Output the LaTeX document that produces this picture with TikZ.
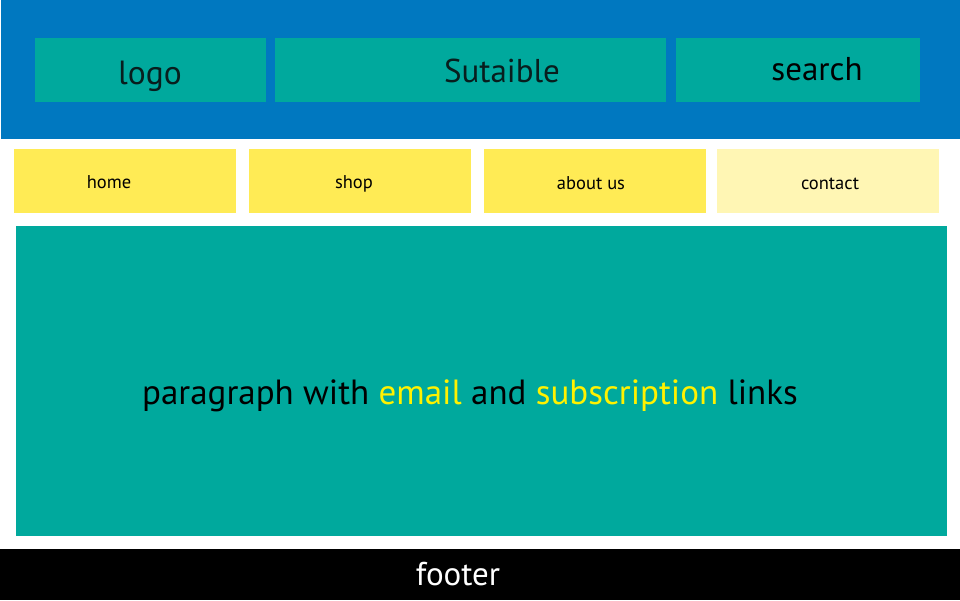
\documentclass[tikz,border=0pt]{standalone}
\usepackage{fontspec}
\setmainfont{PT Sans}

\definecolor{headblue}{RGB}{0,120,192}
\definecolor{tealbox}{RGB}{0,169,157}
\definecolor{navyellow}{RGB}{255,235,85}
\definecolor{navpale}{RGB}{255,246,180}
\definecolor{linkyellow}{RGB}{255,242,0}
\definecolor{darkink}{RGB}{8,30,30}

\tikzset{
  block/.style={fill=#1, draw=none},
  caption/.style={anchor=base, inner sep=0pt, font=\fontsize{#1}{#1}\selectfont}
}

\begin{document}
\begin{tikzpicture}[x=1pt, y=-1pt]

\useasboundingbox (0,0) rectangle (960,600);
\fill[white] (0,0) rectangle (960,600);

% Header band with its three boxes
\fill[block=headblue] (1,0) rectangle (960,139);
\fill[block=tealbox] (35,38) rectangle (266,102);
\fill[block=tealbox] (275,38) rectangle (666,102);
\fill[block=tealbox] (676,38) rectangle (920,102);

\node[caption=33.5, text=darkink] (logo) at (150,84) {logo};
\node[caption=33, text=darkink] (title) at (502,82) {Sutaible};
\node[caption=33, text=black] (search) at (817,80) {search};

% Navigation bar
\fill[block=navyellow] (14,149) rectangle (236,213);
\fill[block=navyellow] (249,149) rectangle (471,213);
\fill[block=navyellow] (484,149) rectangle (706,213);
\fill[block=navpale] (717,149) rectangle (939,213);

\node[caption=18.5] (home) at (109,188) {home};
\node[caption=18.5] (shop) at (354,188) {shop};
\node[caption=18.5] (about) at (591,189) {about us};
\node[caption=18.5] (contact) at (830,189) {contact};

% Main content
\fill[block=tealbox] (16,226) rectangle (947,536);
\node[caption=35, text=black] (para) at (470,404) {paragraph with \textcolor{linkyellow}{email} and
  \textcolor{linkyellow}{subscription} links};

% Footer
\fill[block=black] (0,549) rectangle (960,600);
\node[caption=33, text=white] (footer) at (458,585) {footer};

\end{tikzpicture}
\end{document}
